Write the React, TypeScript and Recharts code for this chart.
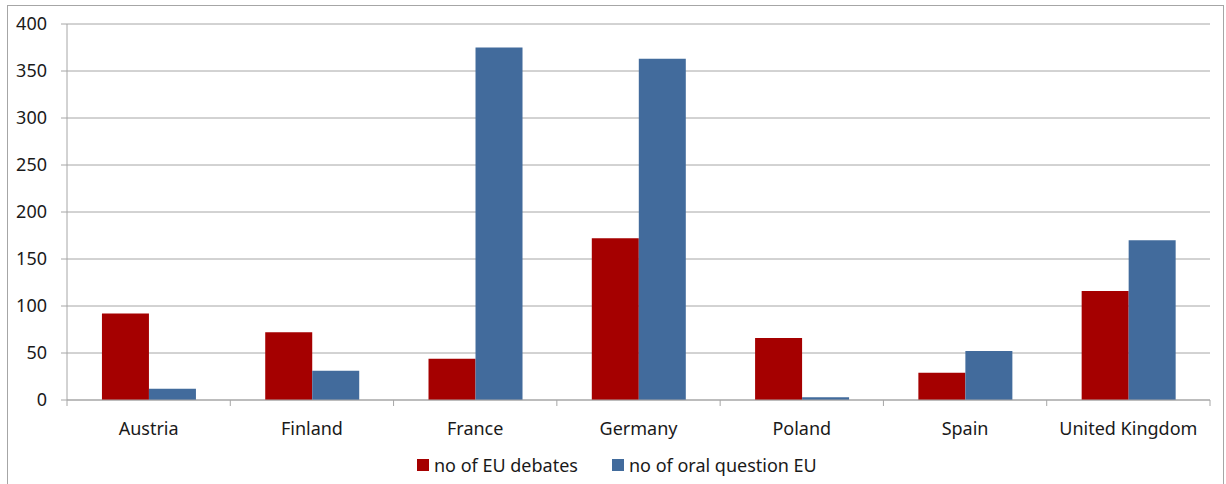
import React from "react";
import { BarChart, Bar, XAxis, YAxis, CartesianGrid, Legend } from "recharts";

const countries = ["Austria", "Finland", "France", "Germany", "Poland", "Spain", "United Kingdom"];
const euDebates = [92, 72, 44, 172, 66, 29, 116];
const oralQuestions = [12, 31, 375, 363, 3, 52, 170];
const yTicks = [0, 50, 100, 150, 200, 250, 300, 350, 400];

const seriesNames = { debates: "no of EU debates", questions: "no of oral question EU" };
const colors = { debates: "#a50000", questions: "#426b9c" };

const data = countries.map((country, i) => ({
  country,
  debates: euDebates[i],
  questions: oralQuestions[i],
}));

const FONT = "'Noto Sans', 'Open Sans', sans-serif";
const AXIS_GRAY = "#a6a6a6";
const TEXT = "#1a1a1a";

// Category label plus the boundary tick marks between categories.
const CategoryTick = (props: any) => {
  const { x, y, payload, index, visibleTicksCount } = props;
  const half = payload && typeof payload.offset === "number" && payload.offset > 0 ? payload.offset : 81.6;
  const isLast = index === (visibleTicksCount ?? countries.length) - 1;
  return (
    <g>
      <line x1={x - half} x2={x - half} y1={y} y2={y + 6} stroke={AXIS_GRAY} />
      {isLast && <line x1={x + half} x2={x + half} y1={y} y2={y + 6} stroke={AXIS_GRAY} />}
      <text x={x} y={y + 35} textAnchor="middle" fill={TEXT} fontSize={18} fontFamily={FONT}>
        {payload.value}
      </text>
    </g>
  );
};

const LegendContent = () => (
  <div style={{ display: "flex", alignItems: "center", fontFamily: FONT, fontSize: 18, color: TEXT, whiteSpace: "nowrap" }}>
    <span style={{ display: "inline-block", width: 12, height: 12, background: colors.debates, marginRight: 5 }} />
    <span style={{ marginRight: 34 }}>{seriesNames.debates}</span>
    <span style={{ display: "inline-block", width: 12, height: 12, background: colors.questions, marginRight: 5 }} />
    <span>{seriesNames.questions}</span>
  </div>
);

export default function App() {
  return (
    <div style={{ position: "absolute", left: 0, top: 0, width: 1226, height: 484, overflow: "hidden", background: "#fff" }}>
      <div
        style={{
          position: "absolute",
          left: 7,
          top: 5,
          width: 1215,
          height: 520,
          border: `1px solid ${AXIS_GRAY}`,
        }}
      />
      <div style={{ position: "absolute", left: 0, top: 0 }}>
        <BarChart
          width={1226}
          height={484}
          data={data}
          margin={{ top: 24, right: 16, left: 0, bottom: 54 }}
          barCategoryGap="21.4%"
          barGap={0}
        >
          <CartesianGrid vertical={false} stroke={AXIS_GRAY} />
          <XAxis
            dataKey="country"
            height={30}
            axisLine={{ stroke: AXIS_GRAY }}
            tickLine={false}
            tickSize={0}
            tickMargin={0}
            interval={0}
            tick={<CategoryTick />}
          />
          <YAxis
            width={67}
            domain={[0, 400]}
            ticks={yTicks}
            interval={0}
            axisLine={{ stroke: AXIS_GRAY }}
            tickLine={{ stroke: AXIS_GRAY }}
            tickSize={6}
            tickMargin={14}
            tick={{ fill: TEXT, fontSize: 18, fontFamily: FONT }}
          />
          <Legend
            layout="horizontal"
            verticalAlign="middle"
            align="center"
            content={<LegendContent />}
            wrapperStyle={{ top: 453, left: 417, width: "auto", height: 24 }}
          />
          <Bar dataKey="debates" name={seriesNames.debates} fill={colors.debates} isAnimationActive={false} />
          <Bar dataKey="questions" name={seriesNames.questions} fill={colors.questions} isAnimationActive={false} />
        </BarChart>
      </div>
    </div>
  );
}
